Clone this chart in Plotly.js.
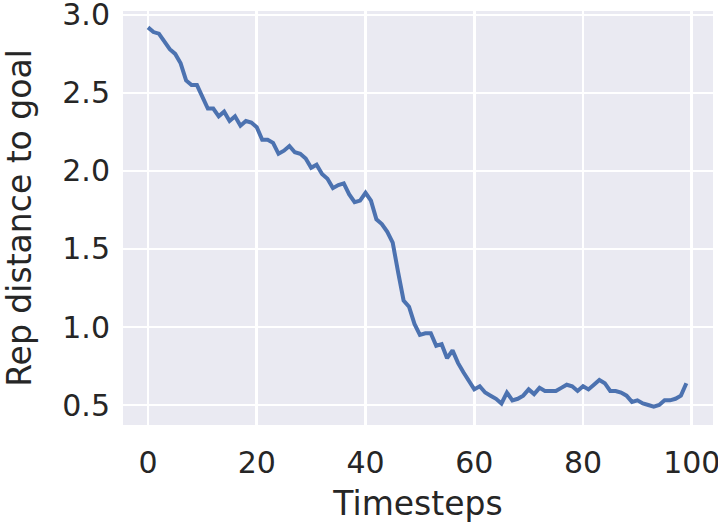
<!DOCTYPE html>
<html>
<head>
<meta charset="utf-8">
<script src="https://cdn.plot.ly/plotly-3.0.1.min.js"></script>
<style>
  html, body { margin: 0; padding: 0; background: #fff; }
  #myDiv { width: 718px; height: 529px; }
</style>
</head>
<body>
<div id="myDiv"></div>
<script>
// timestep index 0..99
var timesteps = [];
for (var i = 0; i < 100; i++) timesteps.push(i);

// distance
var repDist = [
  2.92, 2.89, 2.88, 2.83, 2.78, 2.75, 2.69, 2.58, 2.55, 2.55,
  2.48, 2.40, 2.40, 2.35, 2.38, 2.32, 2.35, 2.29, 2.32, 2.31,
  2.28, 2.20, 2.20, 2.18, 2.11, 2.13, 2.16, 2.12, 2.11, 2.08,
  2.02, 2.04, 1.98, 1.95, 1.89, 1.91, 1.92, 1.85, 1.80, 1.81,
  1.86, 1.81, 1.69, 1.66, 1.61, 1.54, 1.35, 1.17, 1.13, 1.02,
  0.95, 0.96, 0.96, 0.88, 0.89, 0.80, 0.85, 0.77, 0.71, 0.66,
  0.60, 0.62, 0.58, 0.56, 0.54, 0.51, 0.58, 0.53, 0.54, 0.56,
  0.60, 0.57, 0.61, 0.59, 0.59, 0.59, 0.61, 0.63, 0.62, 0.59,
  0.62, 0.60, 0.63, 0.66, 0.64, 0.59, 0.59, 0.58, 0.56, 0.52,
  0.53, 0.51, 0.50, 0.49, 0.50, 0.53, 0.53, 0.54, 0.56, 0.64
];

var xTicks = [0, 20, 40, 60, 80, 100];
var yTicks = [0.5, 1.0, 1.5, 2.0, 2.5, 3.0];
var yTickText = ['0.5', '1.0', '1.5', '2.0', '2.5', '3.0'];

var trace = {
  x: timesteps,
  y: repDist,
  type: 'scatter',
  mode: 'lines',
  line: {color: '#4c72b0', width: 4},
  hoverinfo: 'skip'
};

var layout = {
  width: 718,
  height: 529,
  margin: {l: 123, r: 5, t: 11, b: 104},
  paper_bgcolor: '#ffffff',
  plot_bgcolor: '#eaeaf2',
  showlegend: false,
  font: {family: 'DejaVu Sans', color: '#262626', size: 30},
  xaxis: {
    range: [-4.6, 103.9],
    tickvals: xTicks,
    ticks: '',
    showline: false,
    zeroline: false,
    gridcolor: '#ffffff',
    gridwidth: 2.6,
    tickfont: {size: 30},
    ticklabelstandoff: 17,
    ticklabeloverflow: 'allow',
    title: {text: 'Timesteps', font: {size: 33}, standoff: 12}
  },
  yaxis: {
    range: [0.372, 3.025],
    tickvals: yTicks,
    ticktext: yTickText,
    ticks: '',
    showline: false,
    zeroline: false,
    gridcolor: '#ffffff',
    gridwidth: 2.6,
    tickfont: {size: 30},
    ticklabelstandoff: 12,
    ticklabeloverflow: 'allow',
    title: {text: 'Rep distance to goal', font: {size: 33}, standoff: 20}
  }
};

Plotly.newPlot('myDiv', [trace], layout, {staticPlot: true, displayModeBar: false});
</script>
</body>
</html>
